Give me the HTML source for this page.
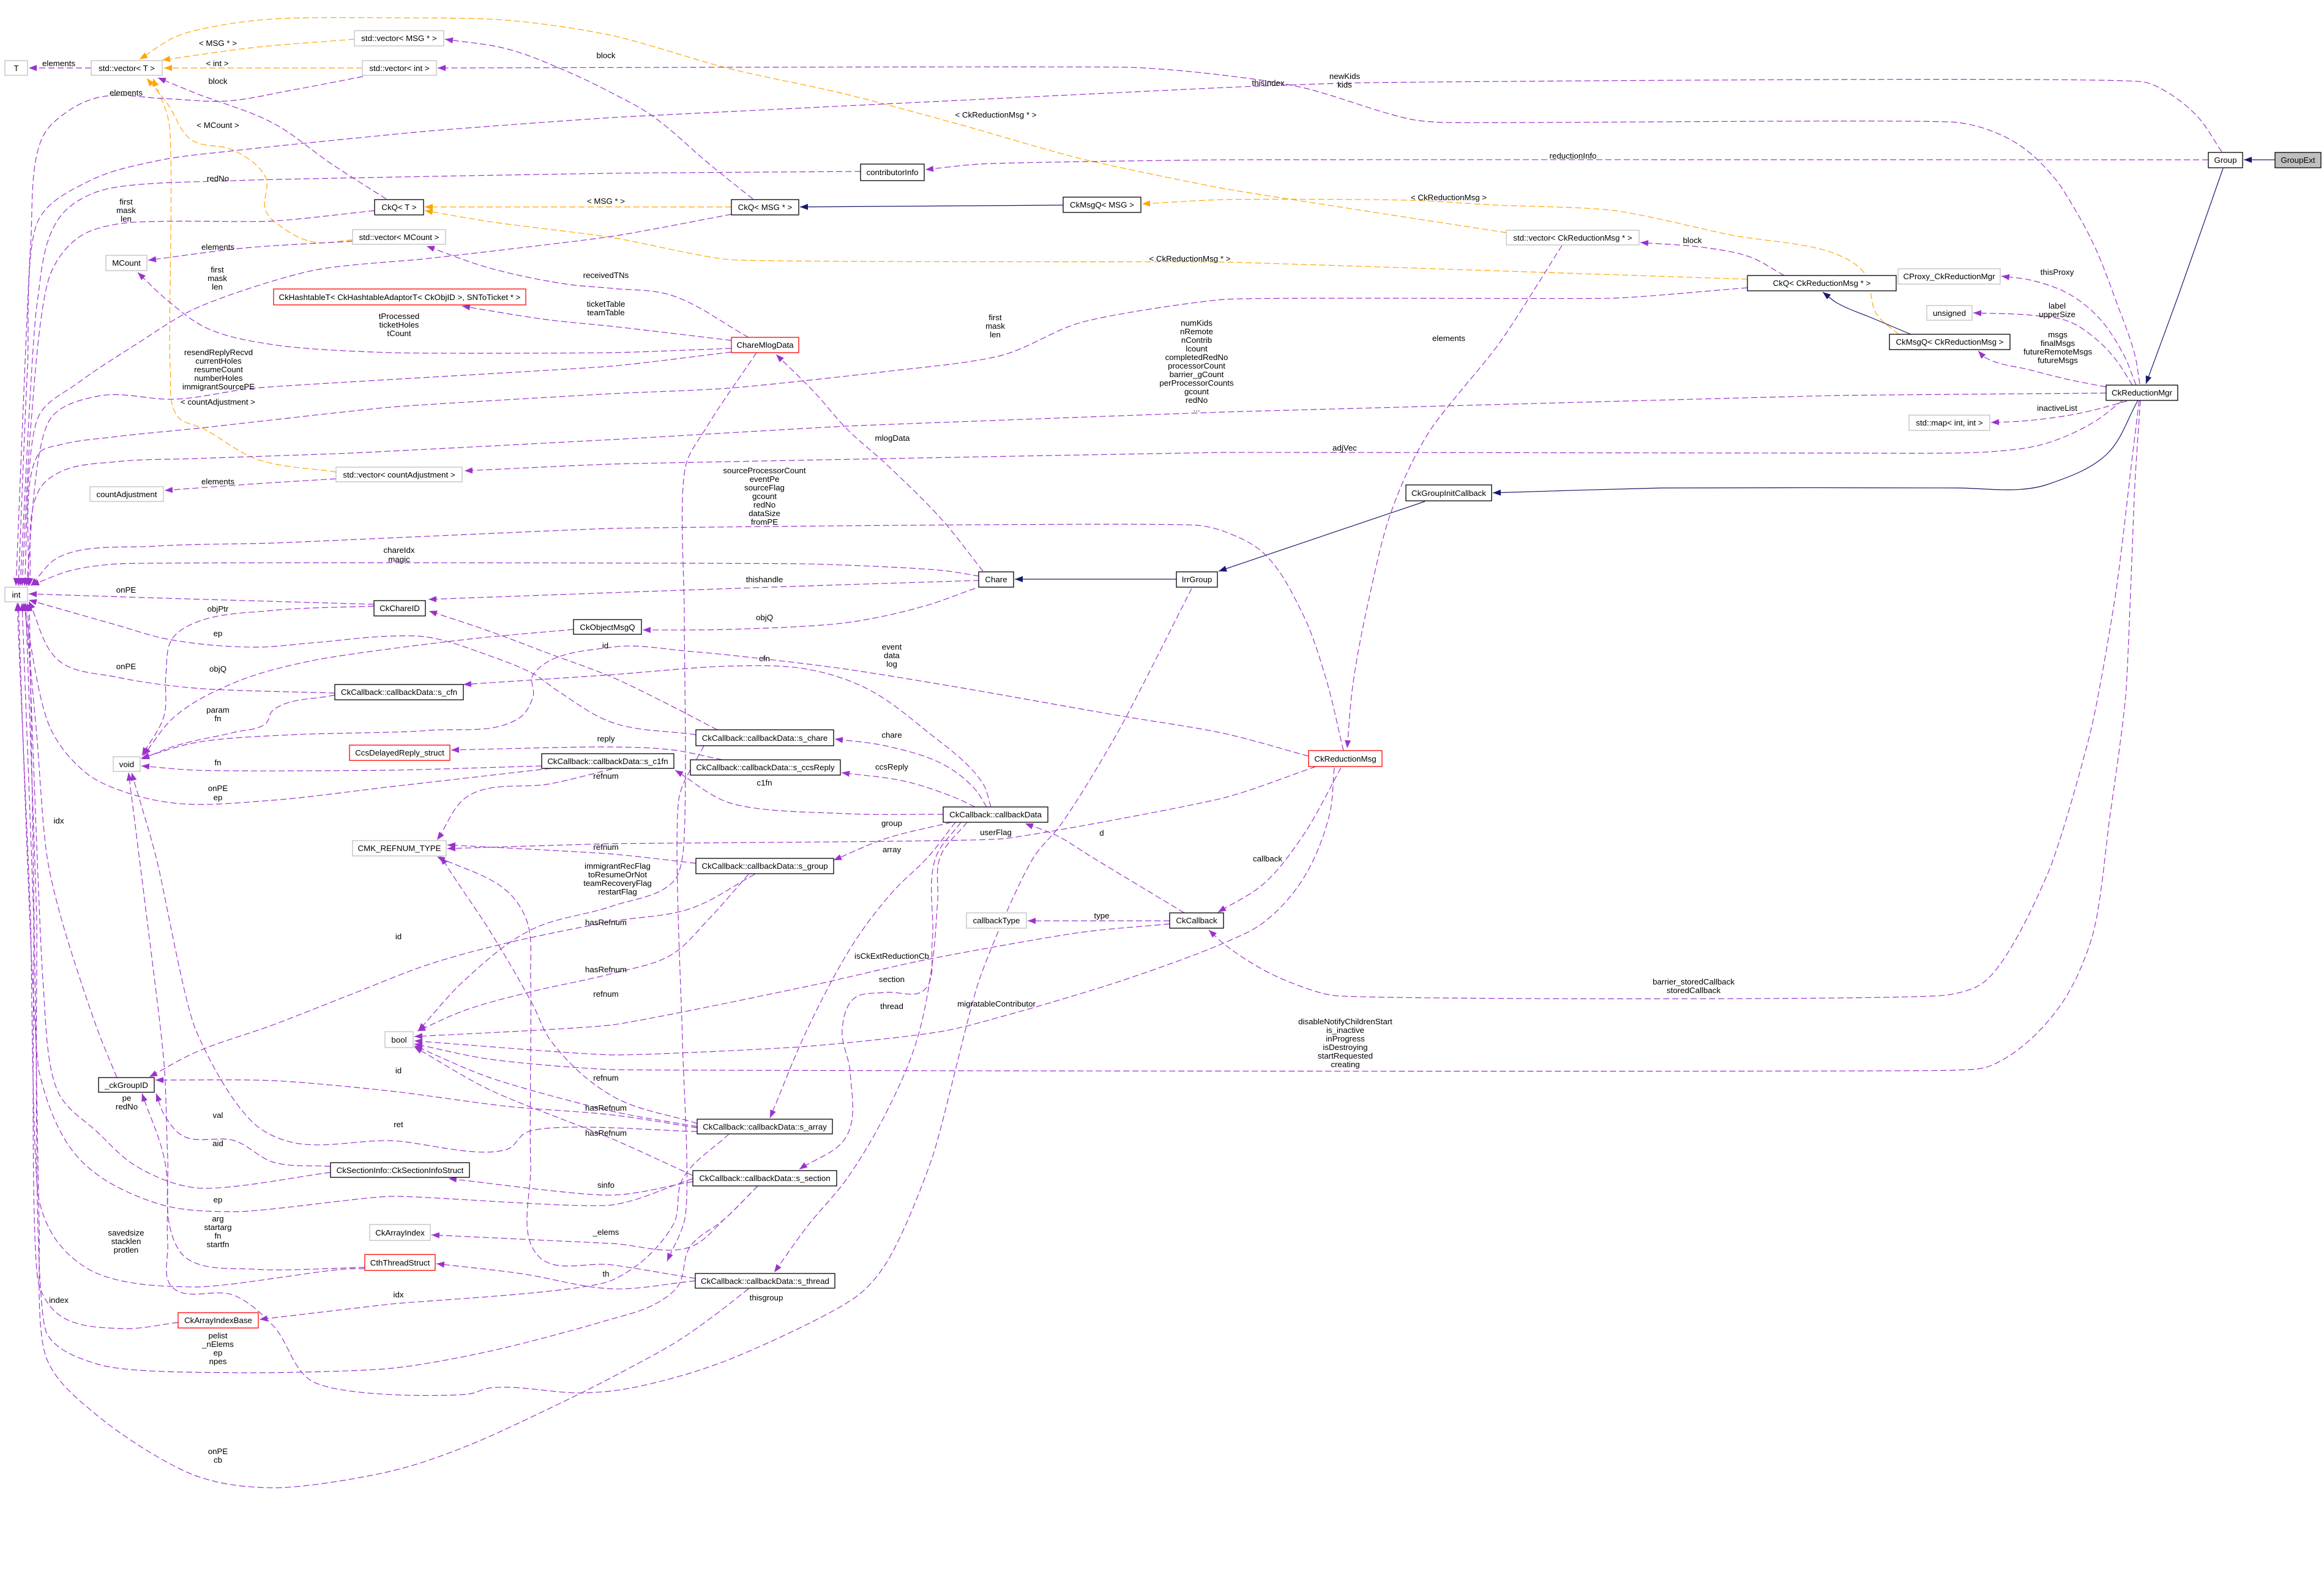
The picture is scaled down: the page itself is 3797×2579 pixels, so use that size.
<!DOCTYPE html>
<html><head><meta charset="utf-8"><style>
html,body{margin:0;padding:0;background:#fff;}
svg{display:block;}
text{font-family:"Liberation Sans",Arial,sans-serif;font-size:13.3px;fill:#000;}
.nt{text-anchor:middle;}
.lb{text-anchor:middle;}
.p{fill:none;stroke:#9a32cd;stroke-width:1.2;stroke-dasharray:10,5;marker-end:url(#ap);}
.o{fill:none;stroke:#ffa500;stroke-width:1.2;stroke-dasharray:10,5;marker-end:url(#ao);}
.n{fill:none;stroke:#191970;stroke-width:1.2;marker-end:url(#an);}
.bk{fill:#fff;stroke:#000;stroke-width:1.3;}
.gr{fill:#fff;stroke:#bfbfbf;stroke-width:1.3;}
.rd{fill:#fff;stroke:#ff0000;stroke-width:1.3;}
</style></head><body>
<svg id="dg" width="3797" height="2579" viewBox="0 0 3797 2579" xmlns="http://www.w3.org/2000/svg">
<defs>
<marker id="ap" viewBox="0 0 13 10" refX="13" refY="5" markerWidth="13" markerHeight="10" markerUnits="userSpaceOnUse" orient="auto"><path d="M0,0 L13,5 L0,10 z" fill="#9a32cd"/></marker>
<marker id="ao" viewBox="0 0 13 10" refX="13" refY="5" markerWidth="13" markerHeight="10" markerUnits="userSpaceOnUse" orient="auto"><path d="M0,0 L13,5 L0,10 z" fill="#ffa500"/></marker>
<marker id="an" viewBox="0 0 13 10" refX="13" refY="5" markerWidth="13" markerHeight="10" markerUnits="userSpaceOnUse" orient="auto"><path d="M0,0 L13,5 L0,10 z" fill="#191970"/></marker>
</defs>
<rect width="3797" height="2579" fill="#fff"/>

<!-- ORANGE template edges -->
<polyline class="o" points="592,111 268,111"/>
<polyline class="o" points="579,64 420,77 265,98"/>
<polyline class="o" points="2461,380 2000,308 1765,259 1574,205 1383,154 1191,112 1000,58 829,33 638,29 446,31 357,42 287,60 228,97"/>
<polyline class="o" points="576,392 510,395 459,370 434,344 434,290 383,246 312,228 274,170 240,128"/>
<polyline class="o" points="549,771 420,750 332,700 290,680 278,600 276,200 250,128"/>
<polyline class="o" points="1195,338 694,338"/>
<polyline class="o" points="2855,456 2000,428 1191,424 1000,388 800,362 694,344"/>
<polyline class="o" points="3102,546 3066,513 3046,446 3000,415 2829,384 2638,344 2446,335 2300,327 2000,326 1866,333"/>

<!-- NAVY inheritance -->
<polyline class="n" points="1737,335 1307,338"/>
<polyline class="n" points="3122,546 3060,520 3000,494 2978,477"/>
<polyline class="n" points="3717,261 3666,261"/>
<polyline class="n" points="3632,275 3560,480 3506,627"/>
<polyline class="n" points="3493,654 3442,742 3346,791 3305,799 3198,797 2714,797 2439,805"/>
<polyline class="n" points="2328,819 1991,933"/>
<polyline class="n" points="1922,946 1658,946"/>

<!-- PURPLE usage edges -->
<polyline class="p" points="149,111 47,111"/>
<polyline class="p" points="631,325 542,268 446,201 319,152 258,127"/>
<polyline class="p" points="1230,325 1159,268 1064,188 1000,152 925,116 829,80 727,64"/>
<polyline class="p" points="3496,627 3488,580 3457,491 3422,402 3386,335 3356,290 3305,241 3254,214 3198,200 2357,200 2306,195 2128,143 2000,123 1848,110 715,111"/>
<polyline class="p" points="3630,248 3590,190 3540,150 3503,134 2236,135 2102,139 2000,143 1000,192 701,214 383,246 255,263 147,295 64,357 45,600 30,957"/>
<polyline class="p" points="593,125 478,147 370,165 268,161 166,158 115,179 70,223 50,400 26,957"/>
<polyline class="p" points="1406,280 1000,283 383,295 159,313 96,357 60,500 33,957"/>
<polyline class="p" points="612,344 446,361 191,366 128,388 83,446 50,700 36,957"/>
<polyline class="p" points="1195,350 1000,386 701,422 510,442 319,504 223,562 128,625 64,678 40,957"/>
<polyline class="p" points="1195,575 1000,598 415,634 287,652 160,647 83,683 43,957"/>
<polyline class="p" points="2855,470 2638,487 2000,489 1765,527 1638,580 1446,607 1191,634 1000,643 638,665 319,700 191,713 96,727 64,740 46,957"/>
<polyline class="p" points="3441,642 3000,646 2000,673 1383,696 1000,718 574,740 319,749 191,754 100,770 64,800 48,957"/>
<polyline class="p" points="3468,654 3420,690 3340,725 3250,738 3000,740 2000,739 1000,758 759,769"/>
<polyline class="p" points="549,782 420,790 269,801"/>
<polyline class="p" points="576,394 400,405 242,425"/>
<polyline class="p" points="1223,551 1096,482 1000,471 925,464 797,437 697,402"/>
<polyline class="p" points="1195,556 1000,533 893,522 755,500"/>
<polyline class="p" points="1195,569 1000,576 638,576 446,563 338,536 274,491 225,445"/>
<polyline class="p" points="1606,933 1540,850 1450,760 1383,700 1330,640 1268,579"/>
<polyline class="p" points="1236,576 1153,700 1121,758 1118,1000 1115,1400 1100,1440 1000,1480 867,1519 760,1600 683,1684"/>
<polyline class="p" points="2195,1226 2166,1107 2128,1002 2064,903 2000,868 1957,858 1000,863 446,887 255,892 96,910 50,957"/>
<polyline class="p" points="2552,401 2450,560 2332,710 2274,833 2236,981 2210,1121 2201,1222"/>
<polyline class="p" points="2915,450 2860,420 2790,405 2680,396"/>
<polyline class="p" points="3608,261 2000,261 1600,268 1512,277"/>
<polyline class="p" points="3490,629 3470,580 3430,520 3380,480 3320,458 3270,451"/>
<polyline class="p" points="3484,629 3455,585 3420,550 3380,525 3320,515 3224,511"/>
<polyline class="p" points="3441,632 3380,620 3320,605 3240,582 3232,573"/>
<polyline class="p" points="3475,655 3420,670 3370,680 3300,688 3253,690"/>
<polyline class="p" points="3495,654 3483,753 3457,967 3417,1189 3346,1426 3244,1602 3183,1625 2179,1626 2128,1612 2064,1584 2000,1542 1975,1519"/>
<polyline class="p" points="3497,654 3488,791 3473,1136 3447,1335 3417,1534 3356,1656 3254,1740 3193,1748 1000,1747 800,1730 677,1705"/>
<polyline class="p" points="1600,941 1542,932 1319,921 191,921 115,932 51,956"/>
<polyline class="p" points="1600,948 1319,957 1000,968 700,979"/>
<polyline class="p" points="611,987 300,978 47,970"/>
<polyline class="p" points="611,990 446,997 319,1017 281,1044 271,1102 268,1169 232,1234"/>
<polyline class="p" points="1593,961 1510,990 1383,1017 1191,1028 1050,1029"/>
<polyline class="p" points="937,1028 765,1044 510,1079 383,1115 287,1169 234,1234"/>
<polyline class="p" points="1172,1192 1083,1146 1000,1106 893,1066 797,1030 701,998"/>
<polyline class="p" points="1137,1200 1000,1180 912,1129 874,1102 797,1070 701,1041 638,1039 510,1050 415,1057 274,1044 191,1021 47,980"/>
<polyline class="p" points="2138,1235 2000,1198 1829,1169 1574,1124 1383,1093 1255,1077 1128,1064 1000,1057 871,1102 871,1137 848,1173 701,1193 478,1200 319,1213 231,1238"/>
<polyline class="p" points="1619,1318 1606,1280 1510,1191 1415,1124 1319,1093 1191,1088 1000,1102 757,1118"/>
<polyline class="p" points="547,1132 319,1124 191,1106 96,1079 47,982"/>
<polyline class="p" points="547,1135 446,1160 434,1182 383,1196 287,1218 231,1240"/>
<polyline class="p" points="1180,1241 1100,1225 1000,1220 737,1225"/>
<polyline class="p" points="885,1251 638,1258 319,1258 231,1251"/>
<polyline class="p" points="900,1255 638,1285 446,1307 287,1312 191,1289 140,1262 83,1191 38,985"/>
<polyline class="p" points="1541,1330 1383,1329 1191,1311 1103,1258"/>
<polyline class="p" points="1612,1318 1593,1289 1542,1249 1446,1218 1364,1207"/>
<polyline class="p" points="1593,1318 1561,1303 1478,1276 1375,1262"/>
<polyline class="p" points="1555,1343 1446,1370 1362,1405"/>
<polyline class="p" points="1561,1343 1516,1400 1459,1456 1395,1540 1319,1681 1258,1826"/>
<polyline class="p" points="1570,1343 1529,1400 1523,1540 1510,1617 1446,1621 1395,1631 1376,1681 1389,1751 1383,1856 1306,1910"/>
<polyline class="p" points="1580,1343 1536,1400 1532,1470 1523,1575 1497,1702 1446,1821 1383,1926 1319,2003 1265,2078"/>
<polyline class="p" points="1935,1491 1784,1400 1727,1365 1675,1345"/>
<polyline class="p" points="1911,1504 1679,1504"/>
<polyline class="p" points="1911,1509 1765,1523 1510,1568 1319,1611 1000,1674 677,1693"/>
<polyline class="p" points="2191,1254 2128,1366 2064,1444 1990,1490"/>
<polyline class="p" points="2180,1254 2172,1331 2128,1437 2064,1507 2000,1540 1829,1603 1638,1660 1542,1684 1319,1709 1000,1723 677,1700"/>
<polyline class="p" points="2150,1252 2000,1303 1638,1370 1000,1378 731,1386"/>
<polyline class="p" points="1137,1410 1000,1395 731,1380"/>
<polyline class="p" points="1000,1256 900,1280 765,1300 714,1372"/>
<polyline class="p" points="1223,1428 1159,1500 1096,1560 1000,1590 867,1620 760,1650 682,1684"/>
<polyline class="p" points="1233,1428 1128,1484 1000,1505 829,1540 701,1575 574,1624 446,1674 319,1719 244,1759"/>
<polyline class="p" points="1136,2088 1000,2066 880,2052 867,1900 867,1600 861,1505 829,1456 714,1399"/>
<polyline class="p" points="1139,1835 1000,1790 900,1700 870,1640 800,1520 740,1430 720,1399"/>
<polyline class="p" points="1139,1840 1000,1815 800,1760 677,1708"/>
<polyline class="p" points="1132,1920 1000,1860 800,1780 677,1710"/>
<polyline class="p" points="1139,1842 1000,1821 829,1807 638,1782 446,1765 254,1764"/>
<polyline class="p" points="1132,1930 1000,1952 733,1925"/>
<polyline class="p" points="1238,1937 1185,1990 1127,2037 1000,2031 705,2017"/>
<polyline class="p" points="1136,2092 1000,2105 850,2080 713,2064"/>
<polyline class="p" points="1191,1852 1115,1926 1100,2000 1000,2091 638,2130 424,2155"/>
<polyline class="p" points="1150,1218 1110,1300 1115,1700 1119,1990 1090,2060"/>
<polyline class="p" points="540,1905 446,1898 383,1863 300,1856 268,1820 255,1786"/>
<polyline class="p" points="191,1760 159,1681 100,1500 77,1400 60,1200 40,985"/>
<polyline class="p" points="540,1915 319,1940 223,1905 159,1849 96,1786 70,1600 45,985"/>
<polyline class="p" points="1139,1848 861,1849 829,1877 638,1863 478,1866 415,1835 319,1680 255,1400 215,1262"/>
<polyline class="p" points="1132,1925 1000,1968 638,1954 383,1979 255,1965 128,1891 64,1751 30,985"/>
<polyline class="p" points="596,2070 415,2073 306,2056 281,2017 274,1891 268,1737 240,1500 210,1262"/>
<polyline class="p" points="596,2072 561,2073 319,2102 159,2080 96,2031 64,1961 50,1500 28,985"/>
<polyline class="p" points="291,2160 200,2170 100,2150 64,2100 55,1500 36,985"/>
<polyline class="p" points="1238,1937 1185,1990 1127,2037 1108,2100 1070,2130 990,2157 800,2207 638,2235 383,2242 159,2228 77,2179 60,1500 42,985"/>
<polyline class="p" points="1223,2105 1165,2150 1108,2190 1031,2233 954,2273 765,2361 638,2403 446,2430 319,2410 159,2312 77,2221 64,2000 48,985"/>
<polyline class="p" points="1947,961 1829,1191 1733,1347 1689,1400 1600,1600 1523,1891 1446,2066 1400,2117 1185,2223 1031,2267 954,2275 800,2267 765,2277 510,2256 446,2165 383,2116 281,2102 274,2031 270,1900 232,1786"/>

<!-- NODES -->
<rect class="gr" x="8" y="99" width="37" height="24"/><text class="nt" x="26.5" y="116">T</text>
<rect class="gr" x="149" y="99" width="116" height="24"/><text class="nt" x="207" y="116">std::vector&lt; T &gt;</text>
<rect class="gr" x="579" y="50" width="146" height="25"/><text class="nt" x="652" y="67">std::vector&lt; MSG * &gt;</text>
<rect class="gr" x="592" y="99" width="121" height="24"/><text class="nt" x="652.5" y="116">std::vector&lt; int &gt;</text>
<rect class="bk" x="612" y="326" width="80" height="25"/><text class="nt" x="652" y="343">CkQ&lt; T &gt;</text>
<rect class="gr" x="576" y="375" width="152" height="24"/><text class="nt" x="652" y="392">std::vector&lt; MCount &gt;</text>
<rect class="gr" x="173" y="417" width="67" height="25"/><text class="nt" x="206.5" y="434">MCount</text>
<rect class="rd" x="447" y="472" width="412" height="26"/><text class="nt" x="653" y="490">CkHashtableT&lt; CkHashtableAdaptorT&lt; CkObjID &gt;, SNToTicket * &gt;</text>
<rect class="bk" x="1406" y="268" width="104" height="27"/><text class="nt" x="1458" y="286">contributorInfo</text>
<rect class="bk" x="1195" y="326" width="110" height="25"/><text class="nt" x="1250" y="343">CkQ&lt; MSG * &gt;</text>
<rect class="bk" x="1737" y="322" width="127" height="25"/><text class="nt" x="1800.5" y="339">CkMsgQ&lt; MSG &gt;</text>
<rect class="rd" x="1195" y="551" width="110" height="25"/><text class="nt" x="1250" y="568">ChareMlogData</text>
<rect class="gr" x="2461" y="376" width="217" height="24"/><text class="nt" x="2569.5" y="393">std::vector&lt; CkReductionMsg * &gt;</text>
<rect class="bk" x="2855" y="450" width="243" height="25"/><text class="nt" x="2976.5" y="467">CkQ&lt; CkReductionMsg * &gt;</text>
<rect class="bk" x="3608" y="249" width="56" height="25"/><text class="nt" x="3636" y="266">Group</text>
<rect x="3717" y="249" width="75" height="25" fill="#bfbfbf" stroke="#000" stroke-width="1.3"/><text class="nt" x="3754.5" y="266">GroupExt</text>
<rect class="gr" x="3101" y="439" width="167" height="25"/><text class="nt" x="3184.5" y="456">CProxy_CkReductionMgr</text>
<rect class="gr" x="3148" y="499" width="74" height="24"/><text class="nt" x="3185" y="516">unsigned</text>
<rect class="bk" x="3087" y="546" width="197" height="25"/><text class="nt" x="3185.5" y="563">CkMsgQ&lt; CkReductionMsg &gt;</text>
<rect class="bk" x="3441" y="629" width="117" height="25"/><text class="nt" x="3499.5" y="646">CkReductionMgr</text>
<rect class="gr" x="3119" y="678" width="132" height="25"/><text class="nt" x="3185" y="695">std::map&lt; int, int &gt;</text>
<rect class="gr" x="147" y="795" width="120" height="24"/><text class="nt" x="207" y="812">countAdjustment</text>
<rect class="gr" x="549" y="763" width="206" height="24"/><text class="nt" x="652" y="780">std::vector&lt; countAdjustment &gt;</text>
<rect class="gr" x="8" y="959" width="37" height="24"/><text class="nt" x="26.5" y="976">int</text>
<rect class="bk" x="611" y="981" width="84" height="25"/><text class="nt" x="653" y="998">CkChareID</text>
<rect class="bk" x="937" y="1012" width="111" height="24"/><text class="nt" x="992.5" y="1029">CkObjectMsgQ</text>
<rect class="bk" x="547" y="1118" width="210" height="25"/><text class="nt" x="652" y="1135">CkCallback::callbackData::s_cfn</text>
<rect class="rd" x="571" y="1217" width="164" height="25"/><text class="nt" x="653" y="1234">CcsDelayedReply_struct</text>
<rect class="bk" x="885" y="1231" width="216" height="24"/><text class="nt" x="993" y="1248">CkCallback::callbackData::s_c1fn</text>
<rect class="gr" x="185" y="1236" width="44" height="24"/><text class="nt" x="207" y="1253">void</text>
<rect class="gr" x="576" y="1373" width="153" height="25"/><text class="nt" x="652.5" y="1390">CMK_REFNUM_TYPE</text>
<rect class="bk" x="1599" y="934" width="57" height="25"/><text class="nt" x="1627.5" y="951">Chare</text>
<rect class="bk" x="1922" y="934" width="67" height="25"/><text class="nt" x="1955.5" y="951">IrrGroup</text>
<rect class="bk" x="1137" y="1192" width="225" height="26"/><text class="nt" x="1249.5" y="1210">CkCallback::callbackData::s_chare</text>
<rect class="bk" x="1128" y="1241" width="245" height="25"/><text class="nt" x="1250.5" y="1258">CkCallback::callbackData::s_ccsReply</text>
<rect class="bk" x="1541" y="1318" width="171" height="25"/><text class="nt" x="1626.5" y="1335">CkCallback::callbackData</text>
<rect class="bk" x="2297" y="792" width="140" height="26"/><text class="nt" x="2367" y="810">CkGroupInitCallback</text>
<rect class="rd" x="2138" y="1226" width="120" height="26"/><text class="nt" x="2198" y="1244">CkReductionMsg</text>
<rect class="bk" x="1137" y="1402" width="225" height="25"/><text class="nt" x="1249.5" y="1419">CkCallback::callbackData::s_group</text>
<rect class="gr" x="1579" y="1491" width="98" height="25"/><text class="nt" x="1628" y="1508">callbackType</text>
<rect class="bk" x="1911" y="1491" width="88" height="25"/><text class="nt" x="1955" y="1508">CkCallback</text>
<rect class="gr" x="629" y="1685" width="46" height="26"/><text class="nt" x="652" y="1703">bool</text>
<rect class="bk" x="161" y="1760" width="91" height="24"/><text class="nt" x="206.5" y="1777">_ckGroupID</text>
<rect class="bk" x="1139" y="1828" width="221" height="24"/><text class="nt" x="1249.5" y="1845">CkCallback::callbackData::s_array</text>
<rect class="bk" x="540" y="1899" width="227" height="24"/><text class="nt" x="653.5" y="1916">CkSectionInfo::CkSectionInfoStruct</text>
<rect class="bk" x="1132" y="1912" width="235" height="25"/><text class="nt" x="1249.5" y="1929">CkCallback::callbackData::s_section</text>
<rect class="gr" x="604" y="2000" width="99" height="26"/><text class="nt" x="653.5" y="2018">CkArrayIndex</text>
<rect class="rd" x="596" y="2049" width="115" height="26"/><text class="nt" x="653.5" y="2067">CthThreadStruct</text>
<rect class="rd" x="291" y="2144" width="131" height="25"/><text class="nt" x="356.5" y="2161">CkArrayIndexBase</text>
<rect class="bk" x="1136" y="2080" width="228" height="24"/><text class="nt" x="1250" y="2097">CkCallback::callbackData::s_thread</text>

<!-- EDGE LABELS -->
<g>
<text class="lb" x="96" y="108">elements</text>
<text class="lb" x="356" y="75">&lt; MSG * &gt;</text>
<text class="lb" x="355" y="108">&lt; int &gt;</text>
<text class="lb" x="356" y="137">block</text>
<text class="lb" x="206" y="156">elements</text>
<text class="lb" x="990" y="95">block</text>
<text class="lb" x="356" y="209">&lt; MCount &gt;</text>
<text class="lb" x="356" y="296">redNo</text>
<text class="lb" x="206" y="334">first</text><text class="lb" x="206" y="348">mask</text><text class="lb" x="206" y="362">len</text>
<text class="lb" x="990" y="333">&lt; MSG * &gt;</text>
<text class="lb" x="356" y="408">elements</text>
<text class="lb" x="355" y="445">first</text><text class="lb" x="355" y="459">mask</text><text class="lb" x="355" y="473">len</text>
<text class="lb" x="990" y="454">receivedTNs</text>
<text class="lb" x="990" y="501">ticketTable</text><text class="lb" x="990" y="515">teamTable</text>
<text class="lb" x="652" y="521">tProcessed</text><text class="lb" x="652" y="535">ticketHoles</text><text class="lb" x="652" y="549">tCount</text>
<text class="lb" x="357" y="580">resendReplyRecvd</text><text class="lb" x="357" y="594">currentHoles</text><text class="lb" x="357" y="608">resumeCount</text><text class="lb" x="357" y="622">numberHoles</text><text class="lb" x="357" y="636">immigrantSourcePE</text>
<text class="lb" x="356" y="661">&lt; countAdjustment &gt;</text>
<text class="lb" x="1627" y="192">&lt; CkReductionMsg * &gt;</text>
<text class="lb" x="1944" y="427">&lt; CkReductionMsg * &gt;</text>
<text class="lb" x="1626" y="523">first</text><text class="lb" x="1626" y="537">mask</text><text class="lb" x="1626" y="551">len</text>
<text class="lb" x="1955" y="532">numKids</text><text class="lb" x="1955" y="546">nRemote</text><text class="lb" x="1955" y="560">nContrib</text><text class="lb" x="1955" y="574">lcount</text><text class="lb" x="1955" y="588">completedRedNo</text><text class="lb" x="1955" y="602">processorCount</text><text class="lb" x="1955" y="616">barrier_gCount</text><text class="lb" x="1955" y="630">perProcessorCounts</text><text class="lb" x="1955" y="644">gcount</text><text class="lb" x="1955" y="658">redNo</text><text class="lb" x="1955" y="672">...</text>
<text class="lb" x="2072" y="140">thisIndex</text>
<text class="lb" x="2197" y="129">newKids</text><text class="lb" x="2197" y="143">kids</text>
<text class="lb" x="2570" y="259">reductionInfo</text>
<text class="lb" x="2367" y="327">&lt; CkReductionMsg &gt;</text>
<text class="lb" x="2765" y="397">block</text>
<text class="lb" x="2367" y="557">elements</text>
<text class="lb" x="3361" y="449">thisProxy</text>
<text class="lb" x="3361" y="504">label</text><text class="lb" x="3361" y="518">upperSize</text>
<text class="lb" x="3362" y="551">msgs</text><text class="lb" x="3362" y="565">finalMsgs</text><text class="lb" x="3362" y="579">futureRemoteMsgs</text><text class="lb" x="3362" y="593">futureMsgs</text>
<text class="lb" x="3361" y="671">inactiveList</text>
<text class="lb" x="2197" y="736">adjVec</text>
<text class="lb" x="356" y="791">elements</text>
<text class="lb" x="1458" y="720">mlogData</text>
<text class="lb" x="1249" y="773">sourceProcessorCount</text><text class="lb" x="1249" y="787">eventPe</text><text class="lb" x="1249" y="801">sourceFlag</text><text class="lb" x="1249" y="815">gcount</text><text class="lb" x="1249" y="829">redNo</text><text class="lb" x="1249" y="843">dataSize</text><text class="lb" x="1249" y="857">fromPE</text>
<text class="lb" x="652" y="903">chareIdx</text><text class="lb" x="652" y="918">magic</text>
<text class="lb" x="206" y="968">onPE</text>
<text class="lb" x="1249" y="951">thishandle</text>
<text class="lb" x="356" y="999">objPtr</text>
<text class="lb" x="1249" y="1013">objQ</text>
<text class="lb" x="356" y="1039">ep</text>
<text class="lb" x="989" y="1059">id</text>
<text class="lb" x="1457" y="1061">event</text><text class="lb" x="1457" y="1075">data</text><text class="lb" x="1457" y="1089">log</text>
<text class="lb" x="1249" y="1080">cfn</text>
<text class="lb" x="206" y="1093">onPE</text>
<text class="lb" x="356" y="1097">objQ</text>
<text class="lb" x="356" y="1164">param</text><text class="lb" x="356" y="1178">fn</text>
<text class="lb" x="1457" y="1205">chare</text>
<text class="lb" x="990" y="1211">reply</text>
<text class="lb" x="356" y="1250">fn</text>
<text class="lb" x="1457" y="1257">ccsReply</text>
<text class="lb" x="990" y="1272">refnum</text>
<text class="lb" x="1249" y="1283">c1fn</text>
<text class="lb" x="356" y="1292">onPE</text><text class="lb" x="356" y="1307">ep</text>
<text class="lb" x="96" y="1345">idx</text>
<text class="lb" x="1457" y="1349">group</text>
<text class="lb" x="1627" y="1364">userFlag</text>
<text class="lb" x="1800" y="1365">d</text>
<text class="lb" x="1457" y="1392">array</text>
<text class="lb" x="990" y="1388">refnum</text>
<text class="lb" x="2071" y="1407">callback</text>
<text class="lb" x="1009" y="1419">immigrantRecFlag</text><text class="lb" x="1009" y="1433">toResumeOrNot</text><text class="lb" x="1009" y="1447">teamRecoveryFlag</text><text class="lb" x="1009" y="1461">restartFlag</text>
<text class="lb" x="1800" y="1500">type</text>
<text class="lb" x="990" y="1511">hasRefnum</text>
<text class="lb" x="651" y="1534">id</text>
<text class="lb" x="1457" y="1566">isCkExtReductionCb</text>
<text class="lb" x="990" y="1588">hasRefnum</text>
<text class="lb" x="1457" y="1604">section</text>
<text class="lb" x="2767" y="1608">barrier_storedCallback</text><text class="lb" x="2767" y="1622">storedCallback</text>
<text class="lb" x="990" y="1628">refnum</text>
<text class="lb" x="1628" y="1644">migratableContributor</text>
<text class="lb" x="1457" y="1648">thread</text>
<text class="lb" x="2198" y="1673">disableNotifyChildrenStart</text><text class="lb" x="2198" y="1687">is_inactive</text><text class="lb" x="2198" y="1701">inProgress</text><text class="lb" x="2198" y="1715">isDestroying</text><text class="lb" x="2198" y="1729">startRequested</text><text class="lb" x="2198" y="1743">creating</text>
<text class="lb" x="651" y="1753">id</text>
<text class="lb" x="990" y="1765">refnum</text>
<text class="lb" x="207" y="1798">pe</text><text class="lb" x="207" y="1812">redNo</text>
<text class="lb" x="990" y="1814">hasRefnum</text>
<text class="lb" x="356" y="1826">val</text>
<text class="lb" x="651" y="1841">ret</text>
<text class="lb" x="990" y="1855">hasRefnum</text>
<text class="lb" x="356" y="1872">aid</text>
<text class="lb" x="990" y="1940">sinfo</text>
<text class="lb" x="356" y="1964">ep</text>
<text class="lb" x="356" y="1995">arg</text><text class="lb" x="356" y="2009">startarg</text><text class="lb" x="356" y="2023">fn</text><text class="lb" x="356" y="2037">startfn</text>
<text class="lb" x="206" y="2018">savedsize</text><text class="lb" x="206" y="2032">stacklen</text><text class="lb" x="206" y="2046">protlen</text>
<text class="lb" x="990" y="2017">_elems</text>
<text class="lb" x="990" y="2085">th</text>
<text class="lb" x="651" y="2119">idx</text>
<text class="lb" x="1252" y="2124">thisgroup</text>
<text class="lb" x="96" y="2128">index</text>
<text class="lb" x="356" y="2186">pelist</text><text class="lb" x="356" y="2200">_nElems</text><text class="lb" x="356" y="2214">ep</text><text class="lb" x="356" y="2228">npes</text>
<text class="lb" x="356" y="2375">onPE</text><text class="lb" x="356" y="2389">cb</text>
</g>
</svg>
<script>
(function(){
function nrm(x,y){var l=Math.sqrt(x*x+y*y);return l>0?[x/l,y/l]:[0,0];}
var pls=document.querySelectorAll('#dg polyline');
for(var k=0;k<pls.length;k++){
 var pl=pls[k];
 var pts=pl.getAttribute('points').trim().split(/\s+/).map(function(s){var a=s.split(',');return [+a[0],+a[1]];});
 var n=pts.length;
 if(n<3) continue;
 var tan=[];
 for(var i=0;i<n;i++){
  var t;
  if(i===0){t=nrm(pts[1][0]-pts[0][0],pts[1][1]-pts[0][1]);}
  else if(i===n-1){t=nrm(pts[n-1][0]-pts[n-2][0],pts[n-1][1]-pts[n-2][1]);}
  else{
   var a=nrm(pts[i][0]-pts[i-1][0],pts[i][1]-pts[i-1][1]);
   var b=nrm(pts[i+1][0]-pts[i][0],pts[i+1][1]-pts[i][1]);
   t=nrm(a[0]+b[0],a[1]+b[1]);
  }
  tan.push(t);
 }
 var d='M'+pts[0][0]+','+pts[0][1];
 for(var i=0;i<n-1;i++){
  var p1=pts[i],p2=pts[i+1];
  var L=Math.min(50,Math.sqrt((p2[0]-p1[0])*(p2[0]-p1[0])+(p2[1]-p1[1])*(p2[1]-p1[1]))/3);
  var c1x=p1[0]+tan[i][0]*L,c1y=p1[1]+tan[i][1]*L;
  var c2x=p2[0]-tan[i+1][0]*L,c2y=p2[1]-tan[i+1][1]*L;
  d+=' C'+c1x.toFixed(1)+','+c1y.toFixed(1)+' '+c2x.toFixed(1)+','+c2y.toFixed(1)+' '+p2[0]+','+p2[1];
 }
 var path=document.createElementNS('http://www.w3.org/2000/svg','path');
 path.setAttribute('d',d);
 path.setAttribute('class',pl.getAttribute('class'));
 pl.parentNode.replaceChild(path,pl);
}
})();
</script>
</body></html>
